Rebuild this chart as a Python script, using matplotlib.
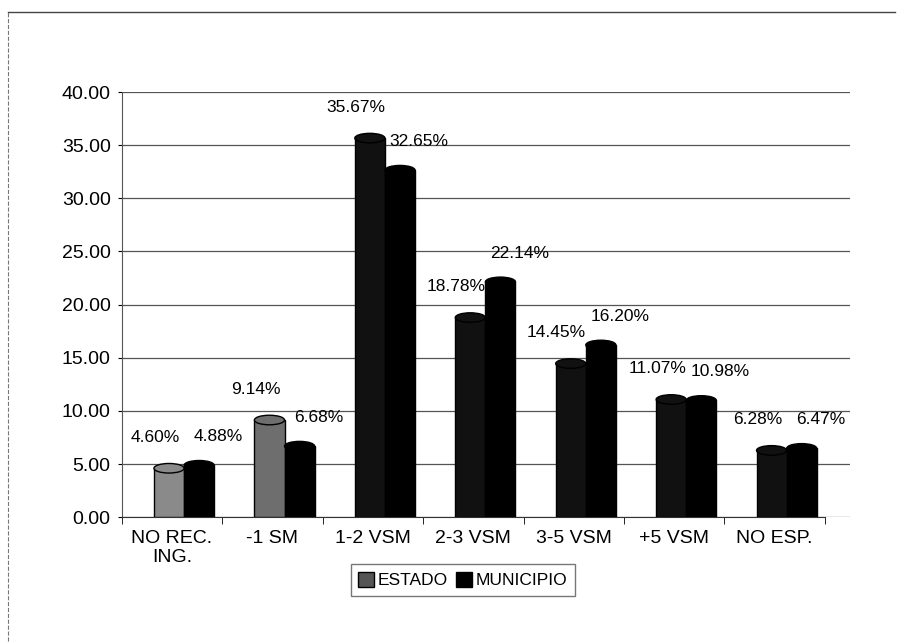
import matplotlib.pyplot as plt
from matplotlib.patches import Ellipse
import numpy as np

categories = ['NO REC.\nING.', '-1 SM', '1-2 VSM', '2-3 VSM', '3-5 VSM', '+5 VSM', 'NO ESP.']
estado = [4.60, 9.14, 35.67, 18.78, 14.45, 11.07, 6.28]
municipio = [4.88, 6.68, 32.65, 22.14, 16.20, 10.98, 6.47]
yticks = [0, 5, 10, 15, 20, 25, 30, 35, 40]

plt.rcParams['font.family'] = ['Liberation Sans', 'DejaVu Sans']

fig = plt.figure(figsize=(9.09, 6.44), dpi=100)
ax = fig.add_axes([0.134, 0.197, 0.801, 0.66])

x = np.arange(len(categories))
w = 0.3
shift = 0.12

# gray wash for the first two state bars, the rest print almost black
estado_colors = ['#8a8a8a', '#6e6e6e'] + ['#111111'] * (len(categories) - 2)

for xi, v, c in zip(x, estado, estado_colors):
    ax.bar(xi + shift - w / 2, v, w, color=c, edgecolor='black', linewidth=1, zorder=3)
    ax.add_patch(Ellipse((xi + shift - w / 2, v), w, 0.9, facecolor=c, edgecolor='black', lw=1, zorder=4))
for xi, v in zip(x, municipio):
    ax.bar(xi + shift + w / 2, v, w, color='black', edgecolor='black', linewidth=1, zorder=3)
    ax.add_patch(Ellipse((xi + shift + w / 2, v), w, 0.9, facecolor='black', edgecolor='black', lw=1, zorder=4))

# value labels
for xi, v in zip(x, estado):
    ax.text(xi + shift - w / 2 - 0.14, v + 2.2, f'{v:.2f}%', ha='center', va='bottom',
            fontsize=12.5, color='black', zorder=5)
for xi, v in zip(x, municipio):
    ax.text(xi + shift + w / 2 + 0.19, v + 2.0, f'{v:.2f}%', ha='center', va='bottom',
            fontsize=12.5, color='black', zorder=5)

ax.set_xlim(-0.5, 6.75)
ax.set_ylim(0, 40)
ax.set_yticks(yticks)
ax.set_yticklabels([f'{t:.2f}' for t in yticks], fontsize=14)
ax.set_xticks(x)
ax.set_xticklabels(categories, fontsize=14)
ax.tick_params(axis='x', length=0, pad=9)
ax.tick_params(axis='y', length=3, direction='out', pad=5)
ax.set_xticks(np.arange(-0.5, 7, 1), minor=True)
ax.tick_params(axis='x', which='minor', length=5, direction='out')

ax.grid(axis='y', color='#555555', linewidth=0.9, zorder=0)
for s in ['top', 'right']:
    ax.spines[s].set_visible(False)
ax.spines['left'].set_color('#555555')
ax.spines['left'].set_linewidth(0.8)
ax.spines['bottom'].set_color('#333333')
ax.spines['bottom'].set_bounds(-0.5, 6.5)

# legend
h1 = plt.Rectangle((0, 0), 1, 1, facecolor='#555555', edgecolor='black')
h2 = plt.Rectangle((0, 0), 1, 1, facecolor='black', edgecolor='black')
fig.legend([h1, h2], ['ESTADO', 'MUNICIPIO'], loc='center', bbox_to_anchor=(0.509, 0.099),
           ncol=2, fontsize=12.5, frameon=True, fancybox=False, edgecolor='#555555',
           handlelength=0.9, handleheight=0.9, handletextpad=0.2, columnspacing=0.5,
           borderpad=0.45)

# outer frame of the page
fig.add_artist(plt.Line2D([0.009, 0.009], [0.005, 0.982], color='#777777', lw=0.8, ls='--'))
fig.add_artist(plt.Line2D([0.009, 0.985], [0.982, 0.982], color='#444444', lw=1))

fig.savefig('out.png', dpi=100)
